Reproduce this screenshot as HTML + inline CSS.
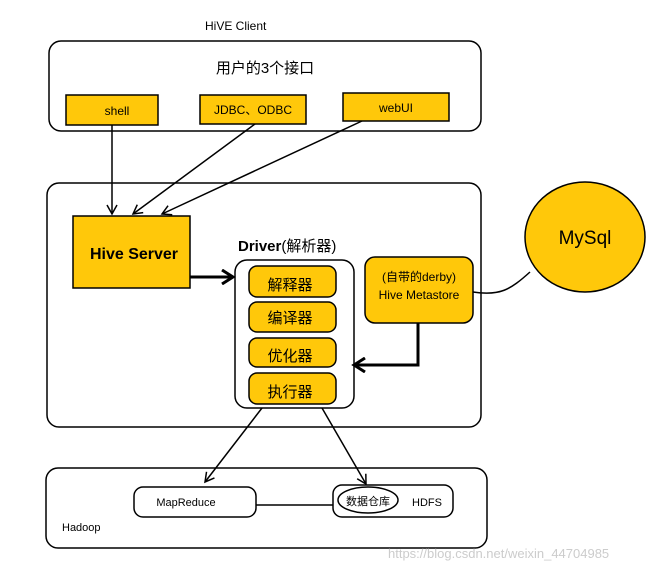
<!DOCTYPE html>
<html><head><style>body{margin:0;background:#fff}svg{display:block}text{font-family:"Liberation Sans","Noto Sans CJK SC",sans-serif}</style></head><body>
<svg width="668" height="568" viewBox="0 0 668 568" xmlns="http://www.w3.org/2000/svg">
<defs><marker id="a" markerWidth="12" markerHeight="12" refX="10" refY="6" orient="auto" markerUnits="userSpaceOnUse"><path d="M1,1 L10,6 L1,11" fill="none" stroke="#000" stroke-width="1.5"/></marker>
<marker id="b" markerWidth="16" markerHeight="16" refX="13" refY="8" orient="auto" markerUnits="userSpaceOnUse"><path d="M2,1 L13,8 L2,15" fill="none" stroke="#000" stroke-width="3"/></marker></defs>
<text x="205" y="30" font-size="12">HiVE   Client</text>
<rect x="49" y="41" width="432" height="90" rx="12" fill="#fff" stroke="#000" stroke-width="1.5"/>
<text x="265" y="73" font-size="15" text-anchor="middle">用户的3个接口</text>
<rect x="66" y="95" width="92" height="30" fill="#FFC80A" stroke="#000" stroke-width="1.5"/>
<text x="117" y="115" font-size="12" text-anchor="middle">shell</text>
<rect x="200" y="95" width="106" height="29" fill="#FFC80A" stroke="#000" stroke-width="1.5"/>
<text x="253" y="114" font-size="12" text-anchor="middle">JDBC、ODBC</text>
<rect x="343" y="93" width="106" height="28" fill="#FFC80A" stroke="#000" stroke-width="1.5"/>
<text x="396" y="112" font-size="12" text-anchor="middle">webUI</text>
<rect x="47" y="183" width="434" height="244" rx="12" fill="#fff" stroke="#000" stroke-width="1.5"/>
<line x1="112" y1="125" x2="112" y2="214" stroke="#000" stroke-width="1.5" marker-end="url(#a)"/>
<line x1="255" y1="124" x2="133" y2="214" stroke="#000" stroke-width="1.5" marker-end="url(#a)"/>
<line x1="362" y1="121" x2="162" y2="214" stroke="#000" stroke-width="1.5" marker-end="url(#a)"/>
<rect x="73" y="216" width="117" height="72" fill="#FFC80A" stroke="#000" stroke-width="1.5"/>
<text x="134" y="259" font-size="16" font-weight="bold" text-anchor="middle">Hive  Server</text>
<text x="238" y="251" font-size="15"><tspan font-weight="bold">Driver</tspan>(解析器)</text>
<rect x="235" y="260" width="119" height="148" rx="12" fill="#fff" stroke="#000" stroke-width="1.5"/>
<rect x="249" y="266" width="87" height="31" rx="8" fill="#FFC80A" stroke="#000" stroke-width="1.5"/>
<text x="290" y="290" font-size="15" text-anchor="middle">解释器</text>
<rect x="249" y="302" width="87" height="30" rx="8" fill="#FFC80A" stroke="#000" stroke-width="1.5"/>
<text x="290" y="323" font-size="15" text-anchor="middle">编译器</text>
<rect x="249" y="338" width="87" height="29" rx="8" fill="#FFC80A" stroke="#000" stroke-width="1.5"/>
<text x="290" y="361" font-size="15" text-anchor="middle">优化器</text>
<rect x="249" y="373" width="87" height="31" rx="8" fill="#FFC80A" stroke="#000" stroke-width="1.5"/>
<text x="290" y="397" font-size="15" text-anchor="middle">执行器</text>
<line x1="190" y1="277" x2="233" y2="277" stroke="#000" stroke-width="3" marker-end="url(#b)"/>
<rect x="365" y="257" width="108" height="66" rx="10" fill="#FFC80A" stroke="#000" stroke-width="1.5"/>
<text x="419" y="281" font-size="12" text-anchor="middle">(自带的derby)</text>
<text x="419" y="299" font-size="12" text-anchor="middle">Hive Metastore</text>
<polyline points="418,323 418,365 354,365" fill="none" stroke="#000" stroke-width="3" marker-end="url(#b)"/>
<path d="M473,292 C500,296 510,290 530,272" fill="none" stroke="#000" stroke-width="1.5"/>
<ellipse cx="585" cy="237" rx="60" ry="55" fill="#FFC80A" stroke="#000" stroke-width="1.5"/>
<text x="585" y="244" font-size="19" text-anchor="middle">MySql</text>
<rect x="46" y="468" width="441" height="80" rx="12" fill="#fff" stroke="#000" stroke-width="1.5"/>
<line x1="262" y1="408" x2="205" y2="482" stroke="#000" stroke-width="1.5" marker-end="url(#a)"/>
<line x1="322" y1="408" x2="366" y2="484" stroke="#000" stroke-width="1.5" marker-end="url(#a)"/>
<rect x="134" y="487" width="122" height="30" rx="9" fill="#fff" stroke="#000" stroke-width="1.5"/>
<text x="186" y="506" font-size="11" text-anchor="middle">MapReduce</text>
<line x1="256" y1="505" x2="333" y2="505" stroke="#000" stroke-width="1.5"/>
<rect x="333" y="485" width="120" height="32" rx="9" fill="#fff" stroke="#000" stroke-width="1.5"/>
<ellipse cx="368" cy="500" rx="30" ry="13" fill="#fff" stroke="#000" stroke-width="1.5"/>
<text x="368" y="505" font-size="11" text-anchor="middle">数据仓库</text>
<text x="412" y="506" font-size="11">HDFS</text>
<text x="62" y="531" font-size="11">Hadoop</text>
<text x="388" y="558" font-size="13" fill="#ccc">https://blog.csdn.net/weixin_44704985</text>
</svg>
</body></html>
